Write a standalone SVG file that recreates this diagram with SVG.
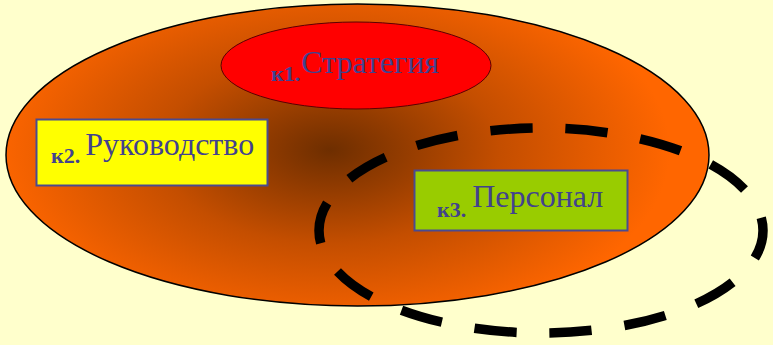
<svg xmlns="http://www.w3.org/2000/svg" width="773" height="345" viewBox="0 0 773 345">
<defs>
<radialGradient id="g" cx="330" cy="150" r="340" gradientUnits="userSpaceOnUse" gradientTransform="translate(330 150) scale(1 0.55) translate(-330 -150)">
<stop offset="0" stop-color="#6E2E00"/>
<stop offset="0.5" stop-color="#C44E00"/>
<stop offset="1" stop-color="#FF6600"/>
</radialGradient>
<style>
.lbl{font-family:"Liberation Serif","Times New Roman",serif;fill:#42428E}
.k{font-weight:bold;font-size:22px}
.t{font-size:32px}
.box{stroke:#4A4A90;stroke-width:2}
</style>
</defs>
<rect width="773" height="345" fill="#FFFFCC"/>
<g id="outer">
<ellipse cx="357.500" cy="155" rx="351.500" ry="151" fill="url(#g)" stroke="#000" stroke-width="1.500"/>
</g>
<g id="k1">
<ellipse cx="356" cy="65.500" rx="135" ry="43.500" fill="#FF0000" stroke="#5A0000" stroke-width="1"/>
<text class="lbl" x="271" y="81"><tspan class="k">к1.</tspan><tspan class="t" dx="1" dy="-8">Стратегия</tspan></text>
</g>
<g id="k2">
<rect class="box" x="36.500" y="119.500" width="231" height="66" fill="#FFFF00"/>
<text class="lbl" x="51" y="163"><tspan class="k">к2.</tspan><tspan class="t" dx="5" dy="-8">Руководство</tspan></text>
</g>
<g id="k3">
<rect class="box" x="414.500" y="170.500" width="213" height="60" fill="#99CC00"/>
<text class="lbl" x="437" y="217"><tspan class="k">к3.</tspan><tspan class="t" dx="6" dy="-10">Персонал</tspan></text>
</g>
<g id="connectors">
<ellipse cx="541" cy="230.500" rx="222" ry="102.500" fill="none" stroke="#000" stroke-width="9.500" pathLength="1050" stroke-dasharray="42 33" stroke-dashoffset="13"/>
</g>
</svg>
